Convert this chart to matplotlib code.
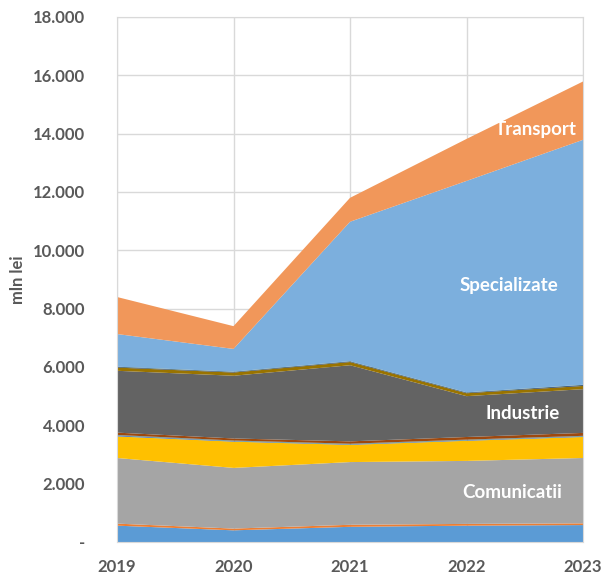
import numpy as np
import matplotlib
matplotlib.use("Agg")
import matplotlib.pyplot as plt
from matplotlib.ticker import FuncFormatter

years = [2019, 2020, 2021, 2022, 2023]

# stacked layers, bottom to top (mln lei)
s_blue = [560, 400, 520, 560, 580]
s_orange = [70, 60, 70, 60, 60]
comunicatii = [2250, 2080, 2150, 2160, 2240]
s_gold = [740, 900, 590, 690, 720]
s_blue2 = [30, 20, 20, 20, 20]
s_green = [10, 10, 10, 10, 10]
s_navy = [10, 10, 10, 10, 10]
s_brown = [80, 70, 80, 90, 100]
industrie = [2120, 2150, 2610, 1400, 1500]
s_olive = [110, 110, 110, 100, 110]
s_navy2 = [20, 20, 20, 20, 30]
s_dkgreen = [10, 10, 10, 10, 10]
specializate = [1120, 780, 4780, 7250, 8400]
transport = [1270, 780, 820, 1440, 2000]

layers = [s_blue, s_orange, comunicatii, s_gold, s_blue2, s_green, s_navy, s_brown,
          industrie, s_olive, s_navy2, s_dkgreen, specializate, transport]
colors = ["#5B9BD5", "#ED7D31", "#A5A5A5", "#FFC000", "#4472C4", "#70AD47", "#255E91",
          "#9E480E", "#636363", "#997300", "#264478", "#43682B", "#7CAFDD", "#F1975A"]

plt.rcParams['font.family'] = ['Lato', 'DejaVu Sans']

fig = plt.figure(figsize=(6.03, 5.78), dpi=100)
ax = fig.add_axes([0.194, 0.0623, 0.773, 0.9083])

ax.stackplot(years, *layers, colors=colors, linewidth=0)

ax.set_xlim(2019, 2023)
ax.set_ylim(0, 18000)
ax.set_yticks(np.arange(0, 18001, 2000))
ax.set_xticks(years)
ax.yaxis.set_major_formatter(FuncFormatter(
    lambda v, p: "-" if v == 0 else f"{int(v):,}".replace(",", ".")))
ax.grid(True, color="#D9D9D9", linewidth=1)
ax.set_axisbelow(True)
for sp in ax.spines.values():
    sp.set_color("#D9D9D9")
ax.tick_params(length=0, labelsize=12, colors="#595959")
ax.tick_params(axis="y", pad=23)
ax.tick_params(axis="x", pad=12)
for lb in ax.get_xticklabels() + ax.get_yticklabels():
    lb.set_fontweight("bold")
ax.set_ylabel("mln lei", fontsize=12, fontweight="bold", color="#595959", labelpad=5)

lab = dict(color="white", fontsize=13.5, fontweight="bold", ha="center", va="center")
ax.text(2022.59, 14130, "Transport", **lab)
ax.text(2022.36, 8810, "Specializate", **lab)
ax.text(2022.48, 4420, "Industrie", **lab)
ax.text(2022.39, 1680, "Comunicatii", **lab)

fig.savefig("out.png", dpi=100)
